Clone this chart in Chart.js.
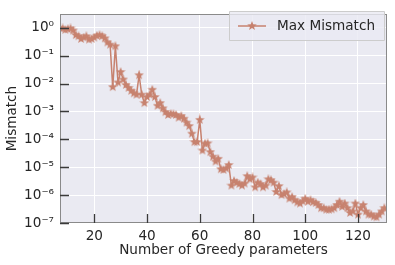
<!DOCTYPE html>
<html><head><meta charset="utf-8">
<script src="https://cdn.jsdelivr.net/npm/chart.js@4"></script>
<style>html,body{margin:0;padding:0;background:#fff}</style>
</head><body>
<canvas id="c" width="395" height="265" style="width:395px;height:265px;display:block"></canvas>
<script>
const greedyParams = [7,8,9,10,11,12,13,14,15,16,17,18,19,20,21,22,23,24,25,26,27,28,29,30,31,32,33,34,35,36,37,38,39,40,41,42,43,44,45,46,47,48,49,50,51,52,53,54,55,56,57,58,59,60,61,62,63,64,65,66,67,68,69,70,71,72,73,74,75,76,77,78,79,80,81,82,83,84,85,86,87,88,89,90,91,92,93,94,95,96,97,98,99,100,101,102,103,104,105,106,107,108,109,110,111,112,113,114,115,116,117,118,119,120,121,122,123,124,125,126,127,128,129,130];
const maxMismatch = [1.0,0.95,0.85,0.9,0.95,0.8,0.55,0.5,0.4,0.45,0.5,0.38,0.4,0.45,0.52,0.55,0.5,0.42,0.3,0.25,
  7.5e-3,0.22,1.1e-2,2.6e-2,1.4e-2,9e-3,7e-3,5.5e-3,4.5e-3,4e-3,2e-2,4e-3,2e-3,3.3e-3,4e-3,6e-3,3.3e-3,1.6e-3,2e-3,1.3e-3,
  9.5e-4,7.5e-4,8.2e-4,8e-4,7.5e-4,6e-4,6.8e-4,5.5e-4,4e-4,3e-4,1.6e-4,8e-5,8e-5,5e-4,4e-5,7e-5,7.2e-5,3.5e-5,2.4e-5,1.6e-5,
  2e-5,8.5e-6,8e-6,9e-6,1.2e-5,2.2e-6,3.2e-6,2.8e-6,2.5e-6,2.2e-6,2.6e-6,4.8e-6,3.7e-6,4.3e-6,1.9e-6,2.8e-6,2.5e-6,1.9e-6,2.2e-6,3.7e-6,
  3.4e-6,2.8e-6,1.3e-6,2.1e-6,1e-6,1.1e-6,1.25e-6,7.5e-7,8.5e-7,6.6e-7,5.5e-7,5e-7,6e-7,7.4e-7,5.8e-7,6.6e-7,5.6e-7,5.2e-7,4.4e-7,3.4e-7,
  3.4e-7,3e-7,3e-7,3.1e-7,3.4e-7,4.4e-7,5.8e-7,3.8e-7,5e-7,3.4e-7,2.3e-7,2.6e-7,5e-7,2e-7,3.4e-7,4.4e-7,2.6e-7,2e-7,2e-7,1.7e-7,
  1.6e-7,2e-7,2.6e-7,3.4e-7];
const xTickValues = [20,40,60,80,100,120];
const yTickValues = [1e-7,1e-6,1e-5,1e-4,1e-3,1e-2,1e-1,1];
const yTickLabels = ['10\u207B\u2077','10\u207B\u2076','10\u207B\u2075','10\u207B\u2074','10\u207B\u00B3','10\u207B\u00B2','10\u207B\u00B9','10\u2070'];
const seriesLabel = 'Max Mismatch';

const LINE_COLOR = '#c7826f';
const TEXT_COLOR = '#262626';
const FONT = 'DejaVu Sans';

function makeStar(size, color) {
  const c = document.createElement('canvas');
  c.width = size; c.height = size;
  const g = c.getContext('2d');
  const cx = size/2, cy = size/2, R = size/2, r = R*0.42;
  g.beginPath();
  for (let i = 0; i < 10; i++) {
    const a = -Math.PI/2 + i*Math.PI/5;
    const rad = i % 2 === 0 ? R : r;
    const px = cx + rad*Math.cos(a), py = cy + rad*Math.sin(a);
    if (i === 0) g.moveTo(px, py); else g.lineTo(px, py);
  }
  g.closePath();
  g.fillStyle = color; g.fill();
  return c;
}
const starImg = makeStar(10, LINE_COLOR);

const bgPlugin = {
  id: 'bg',
  beforeDraw(chart) {
    const {ctx, chartArea: a} = chart;
    ctx.save();
    ctx.fillStyle = '#eaeaf2';
    ctx.fillRect(a.left, a.top, a.right - a.left, a.bottom - a.top);
    ctx.restore();
  },
  afterDraw(chart) {
    const {ctx, chartArea: a, scales} = chart;
    ctx.save();
    // frame
    ctx.strokeStyle = '#8a8a8a'; ctx.lineWidth = 1;
    ctx.strokeRect(Math.round(a.left)+0.5, Math.round(a.top)+0.5, Math.round(a.right-a.left)-1, Math.round(a.bottom-a.top)-1);
    // inward ticks
    ctx.strokeStyle = '#3a3a3a'; ctx.lineWidth = 1.3;
    ctx.beginPath();
    xTickValues.forEach(v => {
      const px = Math.round(scales.x.getPixelForValue(v)) + 0.5;
      ctx.moveTo(px, a.bottom); ctx.lineTo(px, a.bottom - 9);
    });
    yTickValues.forEach(v => {
      const py = Math.round(scales.y.getPixelForValue(v)) + 0.5;
      ctx.moveTo(a.left, py); ctx.lineTo(a.left + 9, py);
    });
    ctx.stroke();
    // legend
    const bx = 229.5, by = 11.5, bw = 155, bh = 29;
    ctx.fillStyle = 'rgba(234,234,242,0.8)';
    ctx.strokeStyle = '#cccccc'; ctx.lineWidth = 1;
    ctx.beginPath();
    ctx.rect(bx, by, bw, bh);
    ctx.fill(); ctx.stroke();
    const ly = by + bh/2;
    ctx.strokeStyle = LINE_COLOR; ctx.lineWidth = 1.5;
    ctx.beginPath(); ctx.moveTo(238, ly); ctx.lineTo(266, ly); ctx.stroke();
    ctx.drawImage(starImg, 252 - 5, ly - 5);
    ctx.fillStyle = TEXT_COLOR;
    ctx.font = '13.6px "' + FONT + '"';
    ctx.textBaseline = 'middle'; ctx.textAlign = 'left';
    ctx.fillText(seriesLabel, 277, ly + 0.5);
    ctx.restore();
  }
};

new Chart(document.getElementById('c'), {
  type: 'line',
  data: {
    datasets: [{
      label: seriesLabel,
      data: greedyParams.map((n, i) => ({x: n, y: maxMismatch[i]})),
      borderColor: LINE_COLOR,
      backgroundColor: LINE_COLOR,
      borderWidth: 1.5,
      pointStyle: starImg,
      pointRadius: 5,
      pointHoverRadius: 5,
      tension: 0,
      fill: false
    }]
  },
  options: {
    responsive: false,
    animation: false,
    events: [],
    layout: {padding: {top: 8, right: 8, left: 0, bottom: 0}},
    plugins: {legend: {display: false}, tooltip: {enabled: false}},
    scales: {
      x: {
        type: 'linear', min: 7, max: 131,
        afterBuildTicks(s) { s.ticks = xTickValues.map(v => ({value: v})); },
        afterFit(s) { s.height = 42; },
        grid: {color: '#ffffff', lineWidth: 1, drawTicks: false},
        border: {display: false},
        ticks: {color: TEXT_COLOR, font: {family: FONT, size: 13.6}, padding: 5, maxRotation: 0, autoSkip: false},
        title: {display: true, text: 'Number of Greedy parameters', color: TEXT_COLOR, font: {family: FONT, size: 13.6}, padding: {top: 0, bottom: 6}}
      },
      y: {
        type: 'logarithmic', min: 1e-7, max: 3.1,
        afterBuildTicks(s) { s.ticks = yTickValues.map(v => ({value: v})); },
        afterFit(s) { s.width = 60; },
        grid: {color: '#ffffff', lineWidth: 1, drawTicks: false},
        border: {display: false},
        ticks: {color: TEXT_COLOR, font: {family: FONT, size: 13.6}, padding: 6, autoSkip: false,
          callback(v) { const i = yTickValues.indexOf(v); return i >= 0 ? yTickLabels[i] : ''; }},
        title: {display: true, text: 'Mismatch', color: TEXT_COLOR, font: {family: FONT, size: 13.6}, padding: {top: 4, bottom: 0}}
      }
    }
  },
  plugins: [bgPlugin]
});
</script>
</body></html>
